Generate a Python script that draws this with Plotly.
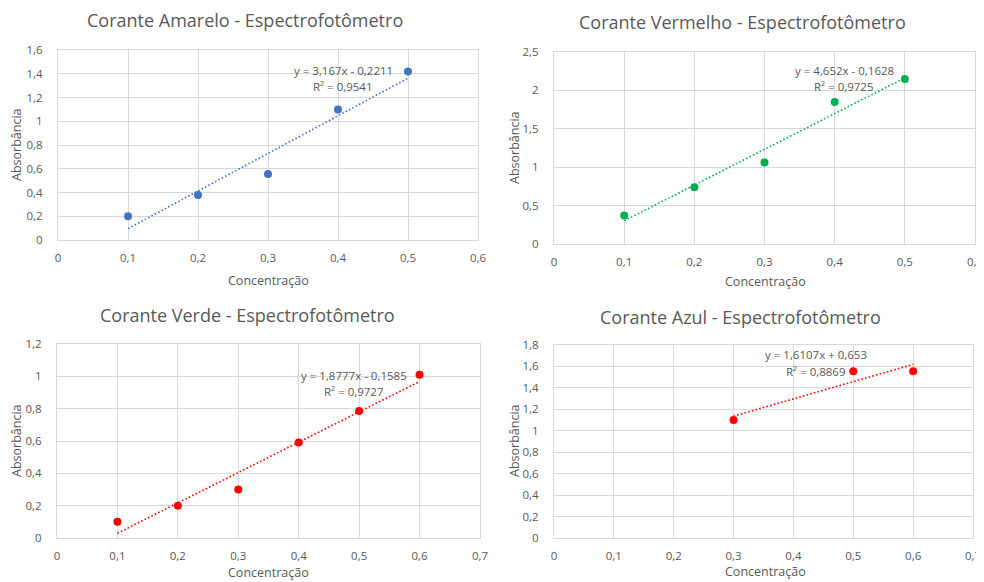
import plotly.graph_objects as go

# the page body has an 8px margin, so the figure is drawn 8px in from the window's top-left
OFF = 8
WIN_W, WIN_H = 984, 582
W, H = WIN_W - OFF, WIN_H - OFF

titles = ["Corante Amarelo - Espectrofotômetro", "Corante Vermelho - Espectrofotômetro",
          "Corante Verde - Espectrofotômetro", "Corante Azul - Espectrofotômetro"]
x_amarelo = [0.1, 0.2, 0.3, 0.4, 0.5]
y_amarelo = [0.20, 0.38, 0.555, 1.10, 1.42]
x_vermelho = [0.1, 0.2, 0.3, 0.4, 0.5]
y_vermelho = [0.37, 0.74, 1.06, 1.85, 2.15]
x_verde = [0.1, 0.2, 0.3, 0.4, 0.5, 0.6]
y_verde = [0.10, 0.20, 0.30, 0.59, 0.785, 1.01]
x_azul = [0.3, 0.5, 0.6]
y_azul = [1.10, 1.555, 1.555]
slopes = [3.167, 4.652, 1.8777, 1.6107]
intercepts = [-0.2211, -0.1628, -0.1585, 0.653]
r2 = ["0,9541", "0,9725", "0,9727", "0,8869"]
colors = ["#4472C4", "#00B050", "#FF0000", "#FF0000"]

x_ticks_a = [0, 0.1, 0.2, 0.3, 0.4, 0.5, 0.6]
x_ticklabels_a = ["0", "0,1", "0,2", "0,3", "0,4", "0,5", "0,6"]
x_ticks_b = [0, 0.1, 0.2, 0.3, 0.4, 0.5, 0.6, 0.7]
x_ticklabels_b = ["0", "0,1", "0,2", "0,3", "0,4", "0,5", "0,6", "0,7"]
y_ticks_1 = [0, 0.2, 0.4, 0.6, 0.8, 1, 1.2, 1.4, 1.6]
y_ticklabels_1 = ["0", "0,2", "0,4", "0,6", "0,8", "1", "1,2", "1,4", "1,6"]
y_ticks_2 = [0, 0.5, 1, 1.5, 2, 2.5]
y_ticklabels_2 = ["0", "0,5", "1", "1,5", "2", "2,5"]
y_ticks_3 = [0, 0.2, 0.4, 0.6, 0.8, 1, 1.2]
y_ticklabels_3 = ["0", "0,2", "0,4", "0,6", "0,8", "1", "1,2"]
y_ticks_4 = [0, 0.2, 0.4, 0.6, 0.8, 1, 1.2, 1.4, 1.6, 1.8]
y_ticklabels_4 = ["0", "0,2", "0,4", "0,6", "0,8", "1", "1,2", "1,4", "1,6", "1,8"]

datasets = [(x_amarelo, y_amarelo), (x_vermelho, y_vermelho), (x_verde, y_verde), (x_azul, y_azul)]
xticks = [(x_ticks_a, x_ticklabels_a), (x_ticks_a, x_ticklabels_a), (x_ticks_b, x_ticklabels_b), (x_ticks_b, x_ticklabels_b)]
yticks = [(y_ticks_1, y_ticklabels_1), (y_ticks_2, y_ticklabels_2), (y_ticks_3, y_ticklabels_3), (y_ticks_4, y_ticklabels_4)]

# plot areas in window pixels: left, right, top, bottom
areas = [(58, 478, 50, 240), (554, 975, 52, 244), (57, 480, 344, 538), (554, 973, 345, 538)]
title_pos = [(245, 19.5), (742, 22), (247, 315), (740, 317)]
ytitle_pos = [(16, 145), (514, 148), (16, 441), (514, 441)]
xtitle_pos = [(268, 280), (765, 281), (268, 572), (765, 571)]
eq_pos = [(343, 71, 87), (844, 71, 87), (354, 375, 391), (816, 354, 371)]

FONT = "Open Sans"
GRAY = "#595959"
GRID = "#D9D9D9"

def px(x):
    return (x - OFF) / W

def py(y):
    return 1 - (y - OFF) / H

fig = go.Figure()
annotations = []
for i in range(4):
    xs, ys = datasets[i]
    n = "" if i == 0 else str(i + 1)
    xa, ya = "x" + n, "y" + n
    tx = [min(xs), max(xs)]
    ty = [slopes[i] * v + intercepts[i] for v in tx]
    fig.add_trace(go.Scatter(x=tx, y=ty, mode="lines", xaxis=xa, yaxis=ya,
                             line=dict(color=colors[i], width=1.6, dash="1.6px,2.2px"), showlegend=False))
    fig.add_trace(go.Scatter(x=xs, y=ys, mode="markers", xaxis=xa, yaxis=ya,
                             marker=dict(color=colors[i], size=8), showlegend=False))
    l, r, t, b = areas[i]
    xv, xl = xticks[i]
    yv, yl = yticks[i]
    fig.layout["xaxis" + n] = dict(domain=[px(l), px(r)], anchor=ya, range=[xv[0], xv[-1]],
                                   tickvals=xv, ticktext=xl, showgrid=True, gridcolor=GRID,
                                   zeroline=False, showline=True, linecolor=GRID, mirror=True,
                                   ticklabelstandoff=7, automargin=False,
                                   tickfont=dict(family=FONT, size=11.5, color=GRAY))
    fig.layout["yaxis" + n] = dict(domain=[py(b), py(t)], anchor=xa, range=[yv[0], yv[-1]],
                                   tickvals=yv, ticktext=yl, showgrid=True, gridcolor=GRID,
                                   zeroline=False, showline=True, linecolor=GRID, mirror=True,
                                   ticklabelstandoff=12, automargin=False,
                                   tickfont=dict(family=FONT, size=11.5, color=GRAY))
    annotations.append(dict(text=titles[i], x=px(title_pos[i][0]), y=py(title_pos[i][1]),
                            xref="paper", yref="paper", showarrow=False, xanchor="center", yanchor="middle",
                            font=dict(family=FONT, size=18, color=GRAY)))
    annotations.append(dict(text="Absorbância", x=px(ytitle_pos[i][0]), y=py(ytitle_pos[i][1]),
                            xref="paper", yref="paper", showarrow=False, textangle=-90,
                            xanchor="center", yanchor="middle",
                            font=dict(family=FONT, size=12.5, color=GRAY)))
    annotations.append(dict(text="Concentração", x=px(xtitle_pos[i][0]), y=py(xtitle_pos[i][1]),
                            xref="paper", yref="paper", showarrow=False, xanchor="center", yanchor="middle",
                            font=dict(family=FONT, size=12.5, color=GRAY)))
    sign = "-" if intercepts[i] < 0 else "+"
    eq = f"y = {slopes[i]}x {sign} {abs(intercepts[i])}".replace(".", ",")
    annotations.append(dict(text=eq, x=px(eq_pos[i][0]), y=py(eq_pos[i][1]),
                            xref="paper", yref="paper", showarrow=False, xanchor="center", yanchor="middle",
                            font=dict(family=FONT, size=11.5, color=GRAY)))
    annotations.append(dict(text="R² = " + r2[i], x=px(eq_pos[i][0]), y=py(eq_pos[i][2]),
                            xref="paper", yref="paper", showarrow=False, xanchor="center", yanchor="middle",
                            font=dict(family=FONT, size=11.5, color=GRAY)))

fig.update_layout(width=W, height=H, margin=dict(l=0, r=0, t=0, b=0, autoexpand=False),
                  paper_bgcolor="white", plot_bgcolor="white",
                  annotations=annotations, font=dict(family=FONT, color=GRAY))
fig.write_html("out.html")
